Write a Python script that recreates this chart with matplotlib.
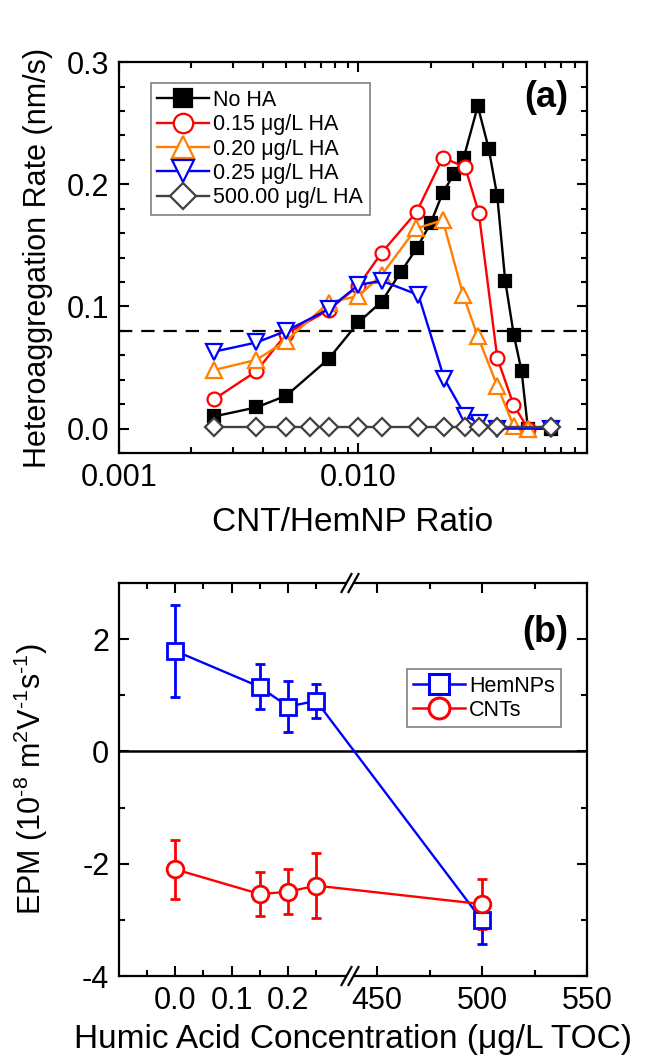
import numpy as np
import matplotlib
matplotlib.use('Agg')
import matplotlib.pyplot as plt
from matplotlib.lines import Line2D
from matplotlib.ticker import FixedLocator, FuncFormatter, LogLocator, MultipleLocator

plt.rcParams['font.family'] = ['Liberation Sans', 'DejaVu Sans']
plt.rcParams['mathtext.fontset'] = 'custom'
plt.rcParams['mathtext.rm'] = 'Liberation Sans'
plt.rcParams['mathtext.it'] = 'Liberation Sans:italic'
plt.rcParams['mathtext.bf'] = 'Liberation Sans:bold'
plt.rcParams['axes.unicode_minus'] = False

# ---- panel (a): heteroaggregation rate vs CNT/HemNP ratio ----
noha_x = [0.0025, 0.00375, 0.005, 0.0075, 0.01, 0.0125, 0.015, 0.0175, 0.02, 0.0225,
          0.025, 0.0275, 0.0315, 0.035, 0.038, 0.041, 0.0445, 0.048, 0.051, 0.0635]
noha_y = [0.010, 0.0174, 0.027, 0.057, 0.087, 0.104, 0.128, 0.1475, 0.168, 0.193,
          0.208, 0.2215, 0.264, 0.229, 0.190, 0.121, 0.077, 0.047, 0.0, 0.0]

ha015_x = [0.0025, 0.00375, 0.005, 0.0075, 0.01, 0.0125, 0.0175, 0.0225, 0.0279,
           0.0318, 0.038, 0.0444, 0.051]
ha015_y = [0.0242, 0.047, 0.0776, 0.097, 0.117, 0.144, 0.1774, 0.2218, 0.214,
           0.1766, 0.0577, 0.0196, 0.0]

ha020_x = [0.0025, 0.00375, 0.005, 0.0075, 0.01, 0.0125, 0.0174, 0.0225, 0.0274,
           0.0315, 0.038, 0.0445, 0.051]
ha020_y = [0.048, 0.0563, 0.072, 0.103, 0.1086, 0.1257, 0.1638, 0.1706, 0.109,
           0.0754, 0.035, 0.002, 0.0]

ha025_x = [0.0025, 0.00375, 0.005, 0.0075, 0.01, 0.0125, 0.0178, 0.0228, 0.0279,
           0.0318, 0.038, 0.0635]
ha025_y = [0.063, 0.0705, 0.080, 0.0977, 0.1176, 0.121, 0.1094, 0.041, 0.0106,
           0.0046, 0.0, 0.0]

ha500_x = [0.0025, 0.00375, 0.005, 0.00629, 0.0075, 0.01, 0.0125, 0.0178, 0.0228,
           0.0279, 0.0318, 0.038, 0.0635]
ha500_y = [0.001] * 13

threshold = 0.08

# ---- panel (b): EPM vs humic acid concentration ----
ha_conc = [0.0, 0.15, 0.20, 0.25, 500.0]
hem_epm = [1.79, 1.15, 0.80, 0.90, -3.01]
hem_err = [0.82, 0.40, 0.45, 0.30, 0.42]
cnt_epm = [-2.10, -2.54, -2.50, -2.39, -2.72]
cnt_err = [0.53, 0.39, 0.40, 0.58, 0.44]

fig = plt.figure(figsize=(6.53, 10.61), dpi=100)
ax1 = fig.add_axes([0.1822, 0.5730, 0.7167, 0.3685])
ax2 = fig.add_axes([0.1822, 0.0801, 0.7167, 0.3704])

for ax in (ax1, ax2):
    for s in ax.spines.values():
        s.set_linewidth(1.6)
    ax.tick_params(which='both', direction='in', top=True, right=True,
                   width=1.5, labelsize=22, pad=7)
    ax.tick_params(which='major', length=7)
    ax.tick_params(which='minor', length=4.5)

lw = 1.7
mew = 1.6
ax1.plot(noha_x, noha_y, color='black', marker='s', ms=9, lw=lw, mew=mew,
         mfc='black', label='No HA')
ax1.plot(ha015_x, ha015_y, color='#ff0000', marker='o', ms=10, lw=lw, mew=mew,
         mfc='white', label='0.15 μg/L HA')
ax1.plot(ha020_x, ha020_y, color='#ff8000', marker='^', ms=11, lw=lw, mew=mew,
         mfc='white', label='0.20 μg/L HA')
ax1.plot(ha025_x, ha025_y, color='#0000ff', marker='v', ms=11, lw=lw, mew=mew,
         mfc='white', label='0.25 μg/L HA')
ax1.plot(ha500_x, ha500_y, color='#404040', marker='D', ms=9.5, lw=lw, mew=mew,
         mfc='white', label='500.00 μg/L HA')
ax1.axhline(threshold, color='black', lw=1.6, dashes=(6, 4), zorder=1)

ax1.set_xscale('log')
ax1.set_xlim(0.001, 0.09)
ax1.set_ylim(-0.02, 0.3)
ax1.xaxis.set_major_locator(FixedLocator([0.001, 0.01]))
ax1.xaxis.set_major_formatter(FuncFormatter(lambda v, p: '%.3f' % v))
ax1.xaxis.set_minor_locator(LogLocator(base=10, subs=np.arange(2, 10)))
ax1.xaxis.set_minor_formatter(FuncFormatter(lambda v, p: ''))
ax1.yaxis.set_major_locator(MultipleLocator(0.1))
ax1.yaxis.set_minor_locator(MultipleLocator(0.02))
ax1.yaxis.set_major_formatter(FuncFormatter(lambda v, p: '%.1f' % v))
ax1.set_xlabel('CNT/HemNP Ratio', fontsize=24, labelpad=10)
ax1.set_ylabel('Heteroaggregation Rate (nm/s)', fontsize=22)
ax1.yaxis.set_label_coords(-0.141, 0.5)
ax1.text(0.96, 0.91, '(a)', transform=ax1.transAxes, fontsize=26,
         fontweight='bold', ha='right', va='center')
leg1 = ax1.legend(loc='upper left', bbox_to_anchor=(0.068, 0.946), borderaxespad=0,
                  fontsize=15.5, fancybox=False, edgecolor='#808080',
                  handlelength=2.4, handletextpad=0.2, labelspacing=0.16,
                  borderpad=0.3, markerscale=1.4, framealpha=1)
leg1.get_frame().set_linewidth(1.2)

# broken x axis for panel (b)
brk = 0.4936
L0, L1 = -0.1, 0.31
R0, R1 = 437.0, 550.0


def fwd(x):
    x = np.asarray(x, dtype=float)
    return np.where(x < 100, brk * (x - L0) / (L1 - L0),
                    brk + (1 - brk) * (x - R0) / (R1 - R0))


def inv(u):
    u = np.asarray(u, dtype=float)
    return np.where(u < brk, L0 + u / brk * (L1 - L0),
                    R0 + (u - brk) / (1 - brk) * (R1 - R0))


ax2.set_xscale('function', functions=(fwd, inv))
ax2.set_xlim(-0.1, 550)
ax2.set_ylim(-4, 3)
ax2.xaxis.set_major_locator(FixedLocator([0.0, 0.1, 0.2, 450, 500, 550]))
ax2.xaxis.set_minor_locator(FixedLocator([-0.05, 0.05, 0.15, 0.25, 475, 525]))
ax2.xaxis.set_major_formatter(FuncFormatter(
    lambda v, p: '%.1f' % v if v < 100 else '%d' % round(v)))
ax2.xaxis.set_minor_formatter(FuncFormatter(lambda v, p: ''))
ax2.yaxis.set_major_locator(MultipleLocator(2))
ax2.yaxis.set_minor_locator(MultipleLocator(1))

ax2.axhline(0, color='black', lw=1.8, zorder=1)
ax2.errorbar(ha_conc, hem_epm, yerr=hem_err, color='#0000ff', marker='s', ms=11,
             mfc='white', mew=2, lw=1.7, elinewidth=2, capsize=3.5, capthick=2,
             zorder=3)
ax2.errorbar(ha_conc, cnt_epm, yerr=cnt_err, color='#ff0000', marker='o', ms=12,
             mfc='white', mew=2, lw=1.7, elinewidth=2, capsize=3.5, capthick=2,
             zorder=3)

ax2.set_xlabel('Humic Acid Concentration (μg/L TOC)', fontsize=24, labelpad=6)
ax2.set_ylabel('EPM (10$^{\\text{-8}}$ m$^{\\text{2}}$V$^{\\text{-1}}$'
               's$^{\\text{-1}}$)', fontsize=22)
ax2.yaxis.set_label_coords(-0.147, 0.5)
ax2.text(0.96, 0.875, '(b)', transform=ax2.transAxes, fontsize=26,
         fontweight='bold', ha='right', va='center')
handles_b = [
    Line2D([], [], color='#0000ff', marker='s', ms=14, mfc='white', mew=2.2, lw=1.8),
    Line2D([], [], color='#ff0000', marker='o', ms=15, mfc='white', mew=2.2, lw=1.8),
]
leg2 = ax2.legend(handles_b, ['HemNPs', 'CNTs'], loc='upper left',
                  bbox_to_anchor=(0.615, 0.78), borderaxespad=0,
                  fontsize=15.5, fancybox=False, edgecolor='#808080',
                  handlelength=2.4, handletextpad=0.2, labelspacing=0.12,
                  borderpad=0.3, framealpha=1)
leg2.get_frame().set_linewidth(1.2)

# break marks on top and bottom spines
px = 1.0 / (0.7167 * 653)
py = 1.0 / (0.3704 * 1061)
for yb in (0.0, 1.0):
    ax2.plot([brk - 3 * px, brk + 3 * px], [yb, yb], color='white', lw=3,
             transform=ax2.transAxes, clip_on=False, zorder=10,
             solid_capstyle='butt')
    for off in (-3.5 * px, 3.5 * px):
        ax2.plot([brk + off - 5 * px, brk + off + 5 * px], [yb - 9 * py, yb + 9 * py],
                 color='black', lw=1.6, transform=ax2.transAxes, clip_on=False,
                 zorder=11)

fig.savefig('out.png', dpi=100)
